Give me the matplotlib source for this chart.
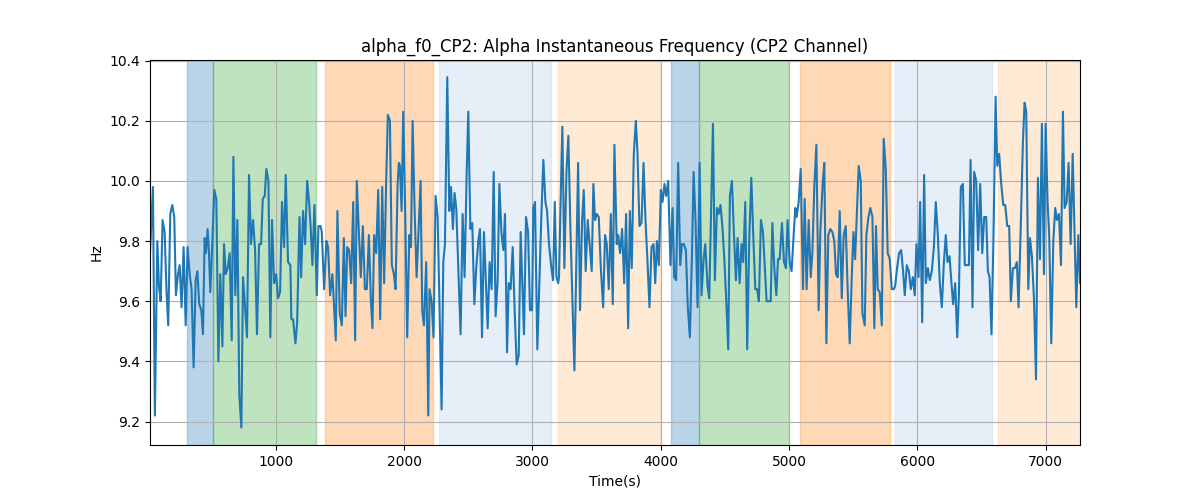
# alpha instantaneous frequency of CP2 channel with the task segments shaded

import matplotlib
matplotlib.use("Agg")
import matplotlib.pyplot as plt

TITLE = "alpha_f0_CP2: Alpha Instantaneous Frequency (CP2 Channel)"

TIMES = [
    19, 42, 57, 76, 89, 102, 117, 133, 148, 161, 177, 193, 208, 221, 237, 250, 265, 281, 297, 312,
    328, 343, 359, 375, 388, 403, 419, 432, 445, 455, 468, 479, 489, 505, 520, 536, 552, 567, 583, 596,
    609, 624, 640, 656, 669, 684, 700, 715, 731, 744, 760, 775, 791, 806, 822, 838, 853, 869, 885, 898,
    913, 926, 942, 957, 970, 986, 1002, 1017, 1033, 1048, 1064, 1077, 1095,
    1113, 1121, 1134, 1153, 1166, 1184, 1197, 1212, 1228, 1244, 1259, 1272, 1285, 1301, 1319, 1332,
    1348, 1358, 1376, 1394, 1407, 1423, 1441,
    1467, 1480, 1498, 1514, 1530, 1543, 1556, 1571, 1587, 1603, 1618, 1631, 1647, 1662, 1678, 1694,
    1709, 1725, 1740, 1753, 1766, 1782, 1798, 1813, 1829, 1844, 1860, 1873, 1889, 1904, 1920, 1933,
    1949, 1959, 1967, 1980, 1993, 2008, 2024, 2040, 2053, 2066, 2081, 2097, 2112, 2128, 2141, 2154,
    2172, 2188,
    2198, 2214, 2229, 2245, 2261, 2292, 2305, 2318, 2336, 2352, 2365, 2380, 2393, 2406, 2425, 2440,
    2456, 2471, 2487, 2500, 2516, 2531, 2547, 2562, 2578, 2591, 2607, 2622, 2635, 2651, 2666, 2682,
    2698, 2713, 2729, 2742, 2758, 2773, 2786, 2802, 2815, 2830, 2846, 2862, 2877, 2893, 2908,
    2934, 2950, 2966, 2981, 2997, 3007, 3020, 3038, 3054, 3070, 3085, 3101, 3114, 3129, 3148, 3161,
    3174, 3187, 3200, 3207, 3220, 3233, 3249, 3265, 3280, 3296, 3311, 3327, 3343, 3356, 3371, 3387,
    3400, 3415, 3431, 3447, 3462, 3475, 3488, 3501, 3517, 3533, 3551, 3566, 3579, 3595, 3611, 3626,
    3639, 3657, 3668, 3683, 3699, 3715, 3730, 3746, 3759, 3774, 3790, 3806, 3819, 3834, 3850, 3866,
    3881, 3897, 3912, 3928, 3944, 3957, 3970, 3985, 4001, 4014, 4029, 4042, 4058, 4076, 4092, 4105,
    4120, 4136, 4152, 4165, 4180, 4196, 4211, 4227, 4243, 4256, 4271, 4287, 4303, 4318, 4334, 4347,
    4365, 4378, 4394, 4407, 4422, 4438, 4451, 4466, 4482, 4497, 4513, 4526, 4539, 4555, 4570, 4586,
    4599, 4615, 4630, 4643, 4659, 4674, 4690, 4706, 4721, 4737, 4752, 4765, 4781, 4797, 4812, 4825,
    4841, 4857, 4870, 4885, 4901, 4914, 4927, 4945, 4961, 4976, 4989, 5005, 5020, 5036, 5049, 5059,
    5075, 5091, 5109, 5122, 5137, 5153, 5169, 5182, 5197, 5213, 5231, 5244, 5262, 5275, 5291, 5306,
    5322, 5338, 5353, 5366, 5379, 5395, 5411, 5426, 5442, 5457, 5473, 5489, 5502, 5515, 5530, 5543,
    5559, 5572, 5590, 5603, 5619, 5634, 5650, 5665, 5678, 5691, 5707, 5723, 5738, 5754, 5769, 5785,
    5801, 5816, 5827, 5842, 5858, 5874, 5889, 5902, 5918, 5934, 5949, 5965, 5980, 5993, 6009, 6022,
    6038, 6053, 6066, 6082, 6097, 6113, 6129, 6144, 6160, 6175, 6191, 6207, 6222, 6235, 6251, 6266,
    6279, 6295, 6311, 6324, 6339, 6355, 6370, 6386, 6402, 6415, 6430, 6443, 6459, 6474, 6490, 6506,
    6521, 6537, 6550, 6563, 6578, 6594, 6610, 6623, 6638, 6654, 6670, 6685, 6701, 6716, 6729, 6745,
    6761, 6776, 6789, 6807, 6823, 6836, 6849, 6865, 6878, 6893, 6909, 6925, 6940, 6956, 6971, 6987,
    7000, 7015, 7028, 7044, 7060, 7075, 7088, 7104, 7120, 7135, 7148, 7164, 7179, 7195, 7211, 7226,
    7239, 7255, 7268,
]

ALPHA_HZ = [
    9.76, 9.98, 9.22, 9.80, 9.65, 9.60, 9.87, 9.83, 9.63, 9.52, 9.89, 9.92, 9.88, 9.62, 9.69, 9.72, 9.58, 9.78, 9.52, 9.78,
    9.69, 9.64, 9.38, 9.67, 9.70, 9.59, 9.57, 9.49, 9.81, 9.76, 9.84, 9.76, 9.63, 9.80, 9.97, 9.94, 9.40, 9.69, 9.45, 9.79,
    9.69, 9.71, 9.76, 9.47, 10.08, 9.62, 9.87, 9.29, 9.18, 9.68, 9.58, 9.48, 10.02, 9.79, 9.87, 9.77, 9.49, 9.79, 9.79, 9.94,
    9.95, 10.04, 10.00, 9.48, 9.87, 9.66, 9.69, 9.61, 9.63, 9.93, 9.78, 10.02, 9.73,
    9.72, 9.54, 9.54, 9.46, 9.53, 9.88, 9.68, 9.90, 9.79, 10.00, 9.93, 9.84, 9.72, 9.92, 9.62, 9.85,
    9.85, 9.83, 9.64, 9.80, 9.78, 9.62, 9.69,
    9.47, 9.90, 9.56, 9.52, 9.81, 9.55, 9.78, 9.77, 9.66, 9.93, 9.47, 10.00, 9.83, 9.68, 9.85, 9.64,
    9.64, 9.82, 9.61, 9.51, 9.82, 9.76, 9.97, 9.54, 9.98, 9.66, 10.00, 10.22, 10.20, 9.72, 9.69, 9.64,
    9.99, 10.06, 10.05, 9.90, 10.23, 9.90, 9.48, 9.82, 9.78, 10.20, 9.91, 9.68, 9.83, 10.00, 9.57, 9.52,
    9.73, 9.22,
    9.64, 9.60, 9.48, 9.95, 9.88, 9.24, 9.73, 9.79, 10.345, 9.90, 9.98, 9.84, 9.96, 9.91, 9.67, 9.49,
    9.89, 9.68, 10.02, 10.23, 9.84, 9.86, 9.59, 9.71, 9.80, 9.84, 9.48, 9.83, 9.69, 9.51, 9.73, 9.64,
    10.03, 9.55, 9.67, 9.99, 9.83, 9.77, 9.89, 9.43, 9.66, 9.64, 9.78, 9.56, 9.39, 9.42, 9.83,
    9.49, 9.88, 9.83, 9.57, 9.57, 9.91, 9.93, 9.44, 9.67, 9.89, 10.07, 9.93, 9.90, 9.79, 9.71, 9.67,
    9.93, 9.68, 9.66, 9.68, 9.94, 10.18, 9.71, 10.03, 10.15, 9.84, 9.61, 9.37, 9.75, 10.06, 9.57, 9.87,
    9.97, 9.70, 9.87, 9.78, 9.70, 9.99, 9.87, 9.89, 9.88, 9.71, 9.58, 9.82, 9.79, 9.64, 9.89, 9.59,
    10.12, 9.79, 9.82, 9.76, 9.84, 9.66, 9.89, 9.51, 9.90, 9.71, 10.09, 10.20, 10.09, 9.85, 9.86, 10.06,
    9.87, 9.73, 9.58, 9.78, 9.79, 9.66, 9.80, 9.72, 9.97, 9.93, 9.99, 9.95, 10.00, 9.72, 9.91, 9.68,
    9.67, 10.06, 9.72, 9.79, 9.79, 9.77, 9.58, 9.48, 9.75, 10.03, 9.87, 9.58, 10.06, 9.62, 9.74, 9.79,
    9.65, 9.61, 9.93, 10.19, 9.67, 9.91, 9.89, 9.92, 9.84, 9.73, 9.58, 9.44, 9.95, 10.00, 9.83, 9.67,
    9.81, 9.66, 9.79, 9.73, 9.93, 9.44, 9.81, 10.01, 9.82, 9.64, 9.64, 9.60, 9.87, 9.83, 9.71, 9.60,
    9.60, 9.60, 9.86, 9.71, 9.62, 9.74, 9.74, 9.86, 9.73, 9.71, 9.87, 9.73, 9.70, 9.82, 9.91, 9.88,
    9.93, 10.04, 9.64, 9.94, 9.64, 9.87, 9.68, 9.76, 9.98, 10.12, 9.57, 9.83, 9.99, 10.06, 9.46, 9.82,
    9.84, 9.83, 9.80, 9.69, 9.68, 9.90, 9.61, 9.82, 9.85, 9.64, 9.46, 9.68, 9.83, 9.74, 9.91, 10.05,
    10.00, 9.56, 9.52, 9.82, 9.88, 9.91, 9.88, 9.51, 9.85, 9.64, 9.63, 9.52, 10.14, 10.04, 9.76, 9.74,
    9.64, 9.64, 9.65, 9.71, 9.76, 9.77, 9.70, 9.62, 9.72, 9.70, 9.64, 9.68, 9.62, 9.79, 9.68, 9.93,
    9.53, 10.02, 9.66, 9.71, 9.67, 9.70, 9.78, 9.93, 9.82, 9.66, 9.58, 9.73, 9.82, 9.73, 9.75, 9.66,
    9.59, 9.66, 9.48, 9.62, 9.98, 9.99, 9.72, 9.72, 9.72, 10.07, 9.58, 10.03, 10.00, 9.77, 9.99, 9.76,
    9.88, 9.88, 9.70, 9.68, 9.49, 9.82, 10.28, 10.05, 10.09, 9.99, 9.92, 9.92, 9.85, 9.85, 9.60, 9.71,
    9.71, 9.73, 9.58, 9.86, 10.13, 10.26, 10.23, 9.64, 9.81, 9.75, 9.61, 9.34, 10.01, 9.74, 10.19, 9.69,
    10.19, 9.93, 9.82, 9.46, 9.80, 9.91, 9.87, 9.89, 9.72, 10.23, 9.91, 9.93, 10.06, 9.79, 10.09, 9.82,
    9.58, 9.82, 9.66,
]

# segment start / end (s) and the colour of each shaded band
SEG_START = [304, 510, 1381, 2274, 3197, 4081, 4295, 5088, 5827, 6628]
SEG_END = [510, 1316, 2222, 3148, 3998, 4295, 5002, 5785, 6581, 7300]
SEG_COLORS = ["tab:blue", "tab:green", "tab:orange", "#aec7e8", "#ffbb78",
              "tab:blue", "tab:green", "tab:orange", "#aec7e8", "#ffbb78"]


def draw_graph():
    fig, ax = plt.subplots(figsize=(12, 5), dpi=100)

    for start, end, color in zip(SEG_START, SEG_END, SEG_COLORS):
        ax.axvspan(start, end, color=color, alpha=0.3)

    ax.plot(TIMES, ALPHA_HZ, color="tab:blue", linewidth=1.5)

    ax.set_title(TITLE)
    ax.set_xlabel("Time(s)")
    ax.set_ylabel("Hz")
    ax.set_xlim(TIMES[0], TIMES[-1])
    ax.set_ylim(9.122, 10.402)
    ax.grid(True)

    plt.savefig("out.png", dpi=100)


def main():
    draw_graph()


if __name__ == '__main__':
    main()
